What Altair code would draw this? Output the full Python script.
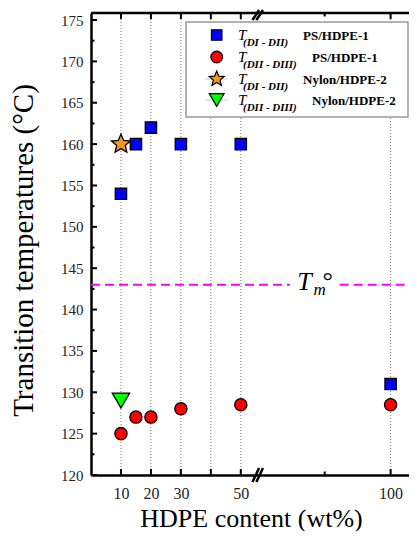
import altair as alt
import pandas as pd

# ---------------- data ----------------
hdpe_ps = [10, 15, 20, 30, 50, 100]
t_di_dii_ps = [154, 160, 162, 160, 160, 131]
t_dii_diii_ps = [125, 127, 127, 128, 128.5, 128.5]
hdpe_nylon = [10]
t_di_dii_nylon = [160]
t_dii_diii_nylon = [129]
tm0 = [143.0]

x_labels_vals = [10, 20, 30, 50, 100]
x_major_ticks = [10, 20, 30, 40, 50, 100]
x_minor_ticks = [78]
grid_x = [10, 20, 30, 40, 50, 100]
y_major = [120, 125, 130, 135, 140, 145, 150, 155, 160, 165, 170, 175]
y_minor = [122.5, 127.5, 132.5, 137.5, 142.5, 147.5, 152.5, 157.5, 162.5, 167.5, 172.5]
x_break = [55.0, 56.3]

legend_subs = ["(DI - DII)", "(DII - DIII)", "(DI - DII)", "(DII - DIII)"]
legend_mats = ["PS/HDPE-1", "PS/HDPE-1", "Nylon/HDPE-2", "Nylon/HDPE-2"]

STAR = ("M0,-1L0.2645,-0.364L0.951,-0.309L0.428,0.139L0.588,0.809L0,0.45"
        "L-0.588,0.809L-0.428,0.139L-0.951,-0.309L-0.2645,-0.364Z")

W, H = 318, 462
X_DOM = [0, 106.14]
Y_DOM = [120, 175.85]
SERIF = "Liberation Serif"

xs = alt.Scale(domain=X_DOM, nice=False, zero=False)
ys = alt.Scale(domain=Y_DOM, nice=False, zero=False)

x_axis = alt.Axis(values=x_labels_vals, title="HDPE content (wt%)", ticks=False, tickSize=0,
                  grid=False, domainColor="black", domainWidth=2.5,
                  labelFont=SERIF, labelFontSize=16, labelColor="#222", labelPadding=10,
                  titleFont=SERIF, titleFontSize=26, titleFontWeight="normal", titleColor="black",
                  titleX=160, titleY=51, titleBaseline="alphabetic", titleAlign="center")
y_axis = alt.Axis(values=y_major, title="Transition temperatures (°C)", ticks=False, tickSize=0,
                  grid=False, domainColor="black", domainWidth=2.5,
                  labelFont=SERIF, labelFontSize=15, labelColor="#222", labelPadding=8,
                  titleFont=SERIF, titleFontSize=29, titleFontWeight="normal", titleColor="black",
                  titleX=-59, titleY=237, titleBaseline="alphabetic", titleAlign="center", titleAngle=270)

# grid (carries the axes)
grid = alt.Chart(pd.DataFrame({"x": grid_x})).mark_rule(
    color="#777", strokeDash=[1, 2], strokeWidth=1
).encode(x=alt.X("x:Q", scale=xs, axis=x_axis))

yaxis_layer = alt.Chart(pd.DataFrame({"y": y_major})).mark_rule(color="black", strokeWidth=2).encode(
    y=alt.Y("y:Q", scale=ys, axis=y_axis), x=alt.value(0), x2=alt.value(6))
yminor_layer = alt.Chart(pd.DataFrame({"y": y_minor})).mark_rule(color="black", strokeWidth=2).encode(
    y=alt.Y("y:Q"), x=alt.value(0), x2=alt.value(3.5))

xb_major = alt.Chart(pd.DataFrame({"x": x_major_ticks})).mark_rule(color="black", strokeWidth=2).encode(
    x="x:Q", y=alt.value(H), y2=alt.value(H - 6))
xb_minor = alt.Chart(pd.DataFrame({"x": x_minor_ticks})).mark_rule(color="black", strokeWidth=2).encode(
    x="x:Q", y=alt.value(H), y2=alt.value(H - 3.5))
xt_major = alt.Chart(pd.DataFrame({"x": x_major_ticks})).mark_rule(color="black", strokeWidth=2).encode(
    x="x:Q", y=alt.value(0), y2=alt.value(6))
xt_minor = alt.Chart(pd.DataFrame({"x": x_minor_ticks})).mark_rule(color="black", strokeWidth=2).encode(
    x="x:Q", y=alt.value(0), y2=alt.value(3.5))
top_border = alt.Chart(pd.DataFrame({"a": [0]})).mark_rule(color="black", strokeWidth=2.5).encode(
    x=alt.value(0), x2=alt.value(W), y=alt.value(0))

brk = pd.DataFrame({"xa": [b - 1.1 for b in x_break], "xb": [b + 1.1 for b in x_break]})
break_bottom = alt.Chart(brk).mark_rule(color="black", strokeWidth=2.5).encode(
    x="xa:Q", x2="xb:Q", y=alt.value(H + 7), y2=alt.value(H - 7))
break_top = alt.Chart(brk).mark_rule(color="black", strokeWidth=2.5).encode(
    x="xa:Q", x2="xb:Q", y=alt.value(7), y2=alt.value(-3))

# Tm line with a gap for the label
tm_df = pd.DataFrame({"x": [X_DOM[0], 83.0], "x2": [66.4, X_DOM[1]], "y": tm0 * 2})
tm_line = alt.Chart(tm_df).mark_rule(color="#ff00ff", strokeDash=[9, 5], strokeWidth=2).encode(
    x="x:Q", x2="x2:Q", y="y:Q")
tm_T = alt.Chart(pd.DataFrame({"x": [68.8], "y": tm0})).mark_text(
    text="T", font=SERIF, fontStyle="italic", fontSize=26, align="left", baseline="alphabetic", dy=5.5
).encode(x="x:Q", y="y:Q")
tm_m = alt.Chart(pd.DataFrame({"x": [74.3], "y": tm0})).mark_text(
    text="m", font=SERIF, fontStyle="italic", fontSize=17, align="left", baseline="alphabetic", dy=10
).encode(x="x:Q", y="y:Q")
tm_deg = alt.Chart(pd.DataFrame({"x": [77.3], "y": tm0})).mark_text(
    text="°", font=SERIF, fontSize=26, align="left", baseline="alphabetic", dy=4
).encode(x="x:Q", y="y:Q")

# data series
sq = alt.Chart(pd.DataFrame({"x": hdpe_ps, "y": t_di_dii_ps})).mark_point(
    shape="square", filled=True, fill="#0000ff", stroke="black", strokeWidth=1.3, size=128, opacity=1
).encode(x="x:Q", y="y:Q")
ci = alt.Chart(pd.DataFrame({"x": hdpe_ps, "y": t_dii_diii_ps})).mark_point(
    shape="circle", filled=True, fill="#ff0000", stroke="black", strokeWidth=1.3, size=150, opacity=1
).encode(x="x:Q", y="y:Q")
st = alt.Chart(pd.DataFrame({"x": hdpe_nylon, "y": t_di_dii_nylon})).mark_point(
    shape=STAR, filled=True, fill="#f7941d", stroke="black", strokeWidth=1.3, size=400, opacity=1
).encode(x="x:Q", y="y:Q")
tr = alt.Chart(pd.DataFrame({"x": hdpe_nylon, "y": t_dii_diii_nylon})).mark_point(
    shape="triangle-down", filled=True, fill="#00ff00", stroke="black", strokeWidth=1.3, size=300, opacity=1
).encode(x="x:Q", y="y:Q")

# legend (drawn manually)
one = pd.DataFrame({"a": [0]})
leg_layers = [alt.Chart(one).mark_rect(fill="white", stroke="#999", strokeWidth=1.5).encode(
    x=alt.value(95), x2=alt.value(W - 1), y=alt.value(9), y2=alt.value(104))]
rows_y = [22, 44, 66, 87]
shapes = ["square", "circle", STAR, "triangle-down"]
fills = ["#0000ff", "#ff0000", "#f7941d", "#00ff00"]
sizes = [110, 135, 250, 220]
mat_x = [212, 221, 212, 221]
for i in range(4):
    ry = rows_y[i]
    if i >= 2:
        leg_layers.append(alt.Chart(one).mark_rule(color="#ccc", strokeWidth=1).encode(
            x=alt.value(114), x2=alt.value(137), y=alt.value(ry)))
    leg_layers.append(alt.Chart(one).mark_point(
        shape=shapes[i], filled=True, fill=fills[i], stroke="black", strokeWidth=1.2, size=sizes[i], opacity=1
    ).encode(x=alt.value(125.7), y=alt.value(ry)))
    leg_layers.append(alt.Chart(one).mark_text(
        text="T", font=SERIF, fontStyle="italic", fontSize=15, align="left", baseline="alphabetic"
    ).encode(x=alt.value(147), y=alt.value(ry + 5)))
    leg_layers.append(alt.Chart(one).mark_text(
        text=legend_subs[i], font=SERIF, fontStyle="italic", fontWeight="bold", fontSize=11,
        align="left", baseline="alphabetic"
    ).encode(x=alt.value(152), y=alt.value(ry + 11)))
    leg_layers.append(alt.Chart(one).mark_text(
        text=legend_mats[i], font=SERIF, fontWeight="bold", fontSize=13, align="left", baseline="alphabetic"
    ).encode(x=alt.value(mat_x[i]), y=alt.value(ry + 5)))

chart = alt.layer(
    grid, yaxis_layer, yminor_layer, xb_major, xb_minor, xt_major, xt_minor, top_border,
    tm_line, tm_T, tm_m, tm_deg, sq, ci, st, tr, *leg_layers, break_bottom, break_top
).properties(
    width=W, height=H,
    autosize=alt.AutoSizeParams(type="none"),
    padding={"left": 83, "top": 5, "right": 0, "bottom": 56},
    background="white",
).configure_view(stroke=None)

chart.save("out.html", embed_options={"renderer": "svg", "actions": False})
